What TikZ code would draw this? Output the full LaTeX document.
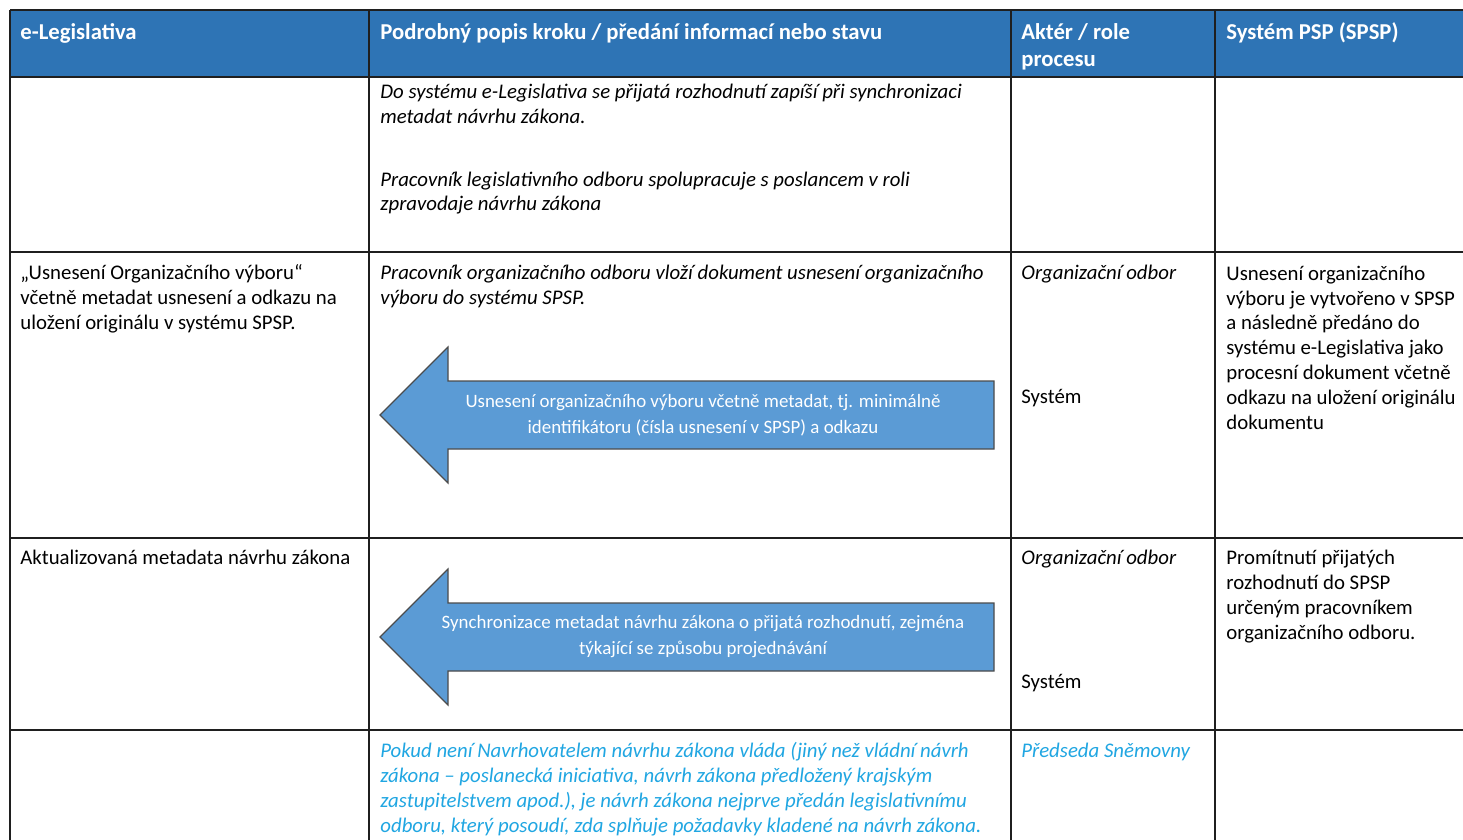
\documentclass[tikz,border=0pt]{standalone}
\usepackage{fontspec}
\setmainfont{Carlito}
\usetikzlibrary{positioning}
\definecolor{hdr}{HTML}{2E74B5}
\definecolor{arr}{HTML}{5B9BD5}
\definecolor{note}{RGB}{32,166,226}
\definecolor{rule}{HTML}{1F1F1F}
\begin{document}
\begin{tikzpicture}[x=0.5pt,y=-0.5pt]
  % base = baseline of the last line
  \tikzstyle{c}=[anchor=base west,inner sep=0pt,align=left,font=\fontsize{10.4}{12.4}\selectfont]
  \tikzstyle{ci}=[c,font=\fontsize{10.4}{12.4}\selectfont\itshape]
  \tikzstyle{cn}=[ci,text=note]
  \tikzstyle{h}=[c,text=white,font=\fontsize{11.35}{13.5}\selectfont\bfseries]
  \tikzstyle{arrtxt}=[inner sep=0pt,align=center,text=white,font=\fontsize{9.45}{13}\selectfont]
  \useasboundingbox[fill=white](0,0)rectangle(1463,840);
  \fill[hdr](10,10)rectangle(1463,77);
  \foreach\y in{10,77,252,538,730}{\draw[rule,line width=0.75pt](10,\y)--(1463,\y);}
  \foreach\x in{10,369,1011,1215}{\draw[rule,line width=0.75pt](\x,10)--(\x,840);}
  % header
  \node[h](hel)at(20,40){e-Legislativa};
  \node[h](hpopis)at(380,40){Podrobný popis kroku / předání informací nebo stavu};
  \node[h](hakter)at(1021,67){Aktér / role\\procesu};
  \node[h](hspsp)at(1226,40){Systém PSP (SPSP)};
  % row 1
  \node[ci](popis1)at(380,211){Do systému e-Legislativa se přijatá rozhodnutí zapíší při synchronizaci\\metadat návrhu zákona.\\[19pt]Pracovník legislativního odboru spolupracuje s poslancem v roli\\zpravodaje návrhu zákona};
  % row 2
  \node[c](el2)at(20,329){„Usnesení Organizačního výboru“\\včetně metadat usnesení a odkazu na\\uložení originálu v systému SPSP.};
  \node[ci](popis2)at(380,304){Pracovník organizačního odboru vloží dokument usnesení organizačního\\výboru do systému SPSP.};
  \node[ci](akter2)at(1021,279){Organizační odbor};
  \node[c](sys2)at(1021,403){Systém};
  \node[c](spsp2)at(1226,429){Usnesení organizačního\\výboru je vytvořeno v SPSP\\a následně předáno do\\systému e-Legislativa jako\\procesní dokument včetně\\odkazu na uložení originálu\\dokumentu};
  % row 3
  \node[c](el3)at(20,564){Aktualizovaná metadata návrhu zákona};
  \node[ci](akter3)at(1021,564){Organizační odbor};
  \node[c](sys3)at(1021,688){Systém};
  \node[c](spsp3)at(1226,639){Promítnutí přijatých\\rozhodnutí do SPSP\\určeným pracovníkem\\organizačního odboru.};
  % row 4
  \node[cn](popis4)at(380,832){Pokud není Navrhovatelem návrhu zákona vláda (jiný než vládní návrh\\zákona – poslanecká iniciativa, návrh zákona předložený krajským\\zastupitelstvem apod.), je návrh zákona nejprve předán legislativnímu\\odboru, který posoudí, zda splňuje požadavky kladené na návrh zákona.};
  \node[cn](akter4)at(1021,757){Předseda Sněmovny};
  % arrows
  \foreach\y/\n/\t in{415/usneseni/{Usnesení organizačního výboru včetně metadat, tj. minimálně\\identifikátoru (čísla usnesení v SPSP) a odkazu},637/synchro/{Synchronizace metadat návrhu zákona o přijatá rozhodnutí, zejména\\týkající se způsobu projednávání}}{
    \draw[fill=arr,draw=rule!80,line width=0.6pt](380,\y)--(448,\y-68)--(448,\y-34)--(994,\y-34)--(994,\y+34)--(448,\y+34)--(448,\y+68)--cycle;
    \node[arrtxt](\n)at(703,\y){\t};}
\end{tikzpicture}
\end{document}
